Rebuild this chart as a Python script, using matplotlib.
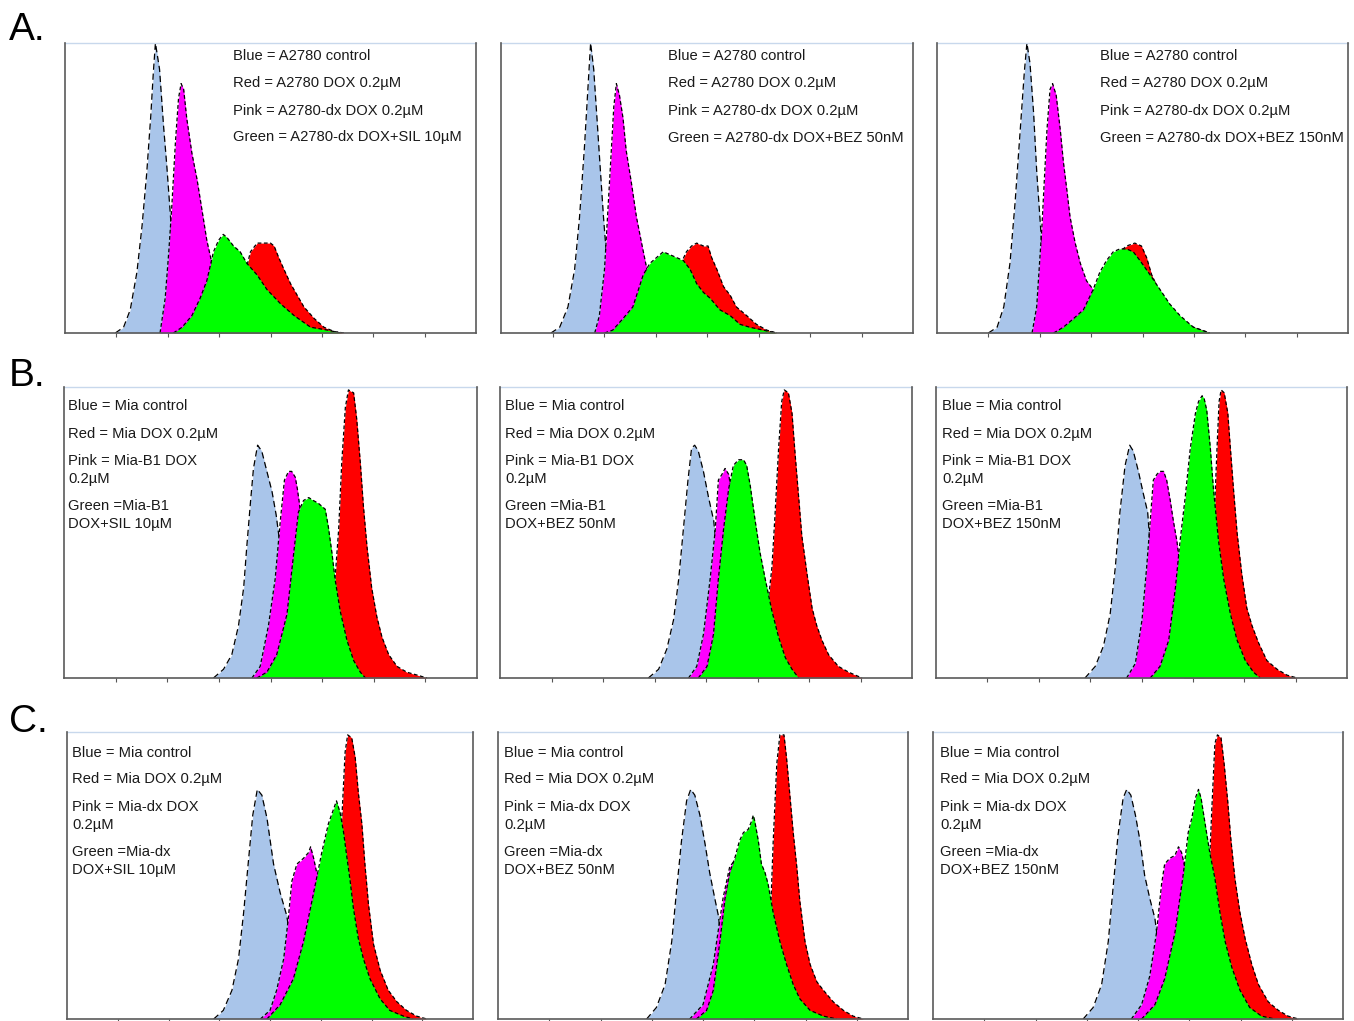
import matplotlib
matplotlib.use('Agg')
import matplotlib.pyplot as plt

plt.rcParams['font.family'] = ['Liberation Sans', 'DejaVu Sans']

W, H = 1354, 1021

# ---- data: fluorescence histograms, x in axis-tick units (0-8), y in % of max ----
# Row A
A1_BLUE_X = [0.98, 1.14, 1.27, 1.40, 1.50, 1.59, 1.67, 1.72, 1.76, 1.84, 1.92, 1.98, 2.05, 2.11, 2.18, 2.28, 2.37]
A1_BLUE_Y = [0, 2, 8, 21, 37, 55, 75, 90, 100, 91, 71, 58, 41, 25, 12, 2, 0]
A1_PINK_X = [1.85, 1.95, 2.02, 2.08, 2.15, 2.21, 2.26, 2.31, 2.37, 2.47, 2.57, 2.67, 2.76, 2.86, 2.96, 3.15, 3.41, 3.80]
A1_PINK_Y = [0, 12, 28, 44, 66, 81, 86, 84, 74, 62, 53, 42, 32, 24, 17, 9, 3, 0]
A1_GREEN_X = [2.11, 2.28, 2.47, 2.63, 2.76, 2.89, 2.99, 3.08, 3.15, 3.28, 3.41, 3.54, 3.74, 3.93, 4.20, 4.46, 4.78, 5.11, 5.37]
A1_GREEN_Y = [0, 2, 6, 12, 18, 28, 32, 34, 33, 30, 28, 24, 20, 15, 10, 6, 2, 1, 0]
A1_RED_X = [2.96, 3.28, 3.51, 3.61, 3.74, 3.87, 4.00, 4.07, 4.16, 4.26, 4.39, 4.52, 4.65, 4.85, 5.04, 5.24, 5.43]
A1_RED_Y = [0, 9, 21, 28, 31, 31, 31, 30, 26, 22, 17, 13, 9, 5, 2, 0.5, 0]

A2_BLUE_X = [0.97, 1.14, 1.30, 1.43, 1.525, 1.62, 1.69, 1.74, 1.80, 1.86, 1.93, 1.99, 2.06, 2.14, 2.24, 2.34]
A2_BLUE_Y = [0, 2, 9, 22, 40, 64, 85, 100, 91, 75, 56, 40, 24, 10, 2, 0]
A2_PINK_X = [1.82, 1.91, 2.01, 2.11, 2.19, 2.24, 2.30, 2.37, 2.43, 2.53, 2.63, 2.73, 2.81, 2.89, 3.02, 3.21, 3.47, 3.80]
A2_PINK_Y = [0, 6, 22, 53, 78, 86, 82, 74, 63, 52, 40, 31, 24, 17, 10, 5, 1, 0]
A2_GREEN_X = [2.01, 2.17, 2.37, 2.56, 2.76, 2.89, 3.02, 3.15, 3.28, 3.41, 3.54, 3.67, 3.80, 3.93, 4.06, 4.25, 4.45, 4.64, 4.83, 5.09, 5.35]
A2_GREEN_Y = [0, 1, 5, 9, 20, 24, 26, 28, 27, 26, 25, 22, 17, 14, 12, 8, 6, 3, 2, 1, 0]
A2_RED_X = [2.69, 3.02, 3.28, 3.47, 3.60, 3.70, 3.80, 3.93, 4.02, 4.09, 4.19, 4.32, 4.45, 4.57, 4.77, 4.96, 5.16, 5.35]
A2_RED_Y = [0, 6, 15, 23, 28, 30, 31, 30, 30, 26, 22, 16, 13, 9, 6, 3, 1, 0]

A3_BLUE_X = [1.00, 1.17, 1.30, 1.42, 1.52, 1.62, 1.70, 1.75, 1.81, 1.88, 1.94, 2.01, 2.07, 2.14, 2.21, 2.32]
A3_BLUE_Y = [0, 2, 9, 24, 45, 70, 90, 100, 93, 76, 56, 38, 22, 9, 2, 0]
A3_PINK_X = [1.85, 1.94, 2.04, 2.14, 2.20, 2.25, 2.32, 2.40, 2.46, 2.53, 2.59, 2.69, 2.79, 2.91, 3.04, 3.17, 3.37, 3.63, 3.89]
A3_PINK_Y = [0, 9, 36, 70, 84, 86, 82, 70, 59, 49, 40, 31, 24, 18, 15, 10, 5, 1, 0]
A3_GREEN_X = [2.27, 2.46, 2.66, 2.85, 3.04, 3.17, 3.30, 3.43, 3.56, 3.69, 3.82, 3.95, 4.15, 4.34, 4.53, 4.73, 4.99, 5.31]
A3_GREEN_Y = [0, 2, 5, 8, 15, 21, 25, 28, 29, 29, 28, 25, 20, 15, 10, 6, 2, 0]
A3_RED_X = [2.59, 2.91, 3.17, 3.43, 3.69, 3.85, 3.98, 4.08, 4.18, 4.34, 4.53, 4.73, 4.99, 5.31]
A3_RED_Y = [0, 6, 17, 26, 30, 31, 30, 26, 20, 14, 9, 5, 2, 0]

# Row B
B1_BLUE_X = [2.895, 3.09, 3.25, 3.38, 3.48, 3.54, 3.61, 3.67, 3.75, 3.83, 3.93, 4.03, 4.11, 4.19, 4.25, 4.32, 4.38, 4.45]
B1_BLUE_Y = [0, 3, 8, 18, 31, 45, 60, 72, 80, 78, 71, 64, 56, 45, 34, 20, 8, 0]
B1_PINK_X = [3.64, 3.80, 3.96, 4.09, 4.19, 4.27, 4.35, 4.41, 4.48, 4.52, 4.56, 4.64, 4.77, 4.96, 5.16]
B1_PINK_Y = [0, 4, 18, 34, 54, 68, 71, 71, 69, 65, 60, 45, 28, 11, 0]
B1_GREEN_X = [3.735, 3.93, 4.12, 4.32, 4.45, 4.54, 4.64, 4.74, 4.83, 4.93, 4.995, 5.06, 5.12, 5.19, 5.25, 5.35, 5.48, 5.61, 5.74, 5.84]
B1_GREEN_Y = [0, 2, 8, 22, 43, 57, 61, 62, 61, 60, 59, 58, 52, 43, 34, 23, 13, 6, 2, 0]
B1_RED_X = [4.45, 4.83, 5.09, 5.25, 5.32, 5.38, 5.45, 5.51, 5.61, 5.67, 5.74, 5.80, 5.87, 5.96, 6.06, 6.16, 6.29, 6.45, 6.64, 6.84, 7.03]
B1_RED_Y = [0, 5, 15, 34, 51, 74, 93, 99, 98, 89, 74, 59, 45, 31, 21, 14, 8, 4, 2, 1, 0]

B2_BLUE_X = [2.88, 3.08, 3.24, 3.37, 3.47, 3.56, 3.65, 3.72, 3.78, 3.85, 3.95, 4.05, 4.15, 4.21, 4.31, 4.40, 4.47]
B2_BLUE_Y = [0, 3, 10, 20, 34, 51, 68, 79, 80, 78, 71, 62, 54, 43, 22, 5, 0]
B2_PINK_X = [3.66, 3.82, 3.95, 4.08, 4.18, 4.24, 4.31, 4.37, 4.44, 4.50, 4.57, 4.70, 4.89, 5.08]
B2_PINK_Y = [0, 4, 15, 34, 51, 68, 70, 72, 70, 63, 51, 28, 8, 0]
B2_GREEN_X = [3.85, 4.02, 4.145, 4.24, 4.34, 4.44, 4.53, 4.63, 4.73, 4.79, 4.86, 4.955, 5.05, 5.15, 5.28, 5.41, 5.54, 5.67, 5.80]
B2_GREEN_Y = [0, 4, 15, 34, 51, 65, 73, 75, 75, 73, 66, 54, 43, 34, 23, 14, 7, 3, 0]
B2_RED_X = [4.57, 4.95, 5.18, 5.28, 5.34, 5.41, 5.47, 5.52, 5.60, 5.67, 5.73, 5.80, 5.86, 5.96, 6.06, 6.15, 6.25, 6.38, 6.57, 6.77, 7.03]
B2_RED_Y = [0, 5, 22, 38, 56, 79, 95, 99, 98, 91, 77, 62, 49, 36, 24, 18, 13, 8, 4, 2, 0]

B3_BLUE_X = [2.90, 3.10, 3.26, 3.39, 3.49, 3.58, 3.68, 3.77, 3.84, 3.94, 4.04, 4.12, 4.17, 4.23, 4.33, 4.43]
B3_BLUE_Y = [0, 4, 11, 22, 38, 57, 73, 80, 78, 71, 63, 57, 45, 28, 11, 0]
B3_PINK_X = [3.71, 3.88, 4.01, 4.10, 4.17, 4.23, 4.30, 4.36, 4.43, 4.49, 4.56, 4.62, 4.69, 4.75, 4.82, 4.95, 5.08, 5.21]
B3_PINK_Y = [0, 5, 20, 38, 54, 68, 70, 71, 71, 68, 61, 54, 47, 38, 28, 13, 4, 0]
B3_GREEN_X = [4.17, 4.36, 4.53, 4.66, 4.75, 4.85, 4.95, 5.05, 5.11, 5.18, 5.22, 5.27, 5.34, 5.40, 5.50, 5.60, 5.73, 5.86, 6.02, 6.18, 6.31]
B3_GREEN_Y = [0, 4, 13, 31, 47, 62, 79, 91, 95, 97, 96, 92, 79, 65, 47, 34, 22, 13, 6, 2, 0]
B3_RED_X = [4.82, 5.14, 5.34, 5.42, 5.47, 5.51, 5.55, 5.61, 5.68, 5.73, 5.79, 5.86, 5.95, 6.05, 6.15, 6.28, 6.44, 6.64, 6.83, 7.03]
B3_RED_Y = [0, 11, 34, 57, 79, 95, 99, 98, 91, 79, 65, 50, 36, 24, 18, 12, 6, 3, 1, 0]

# Row C
C1_BLUE_X = [2.89, 3.08, 3.25, 3.38, 3.48, 3.58, 3.66, 3.75, 3.84, 3.94, 4.07, 4.20, 4.33, 4.46, 4.59, 4.72]
C1_BLUE_Y = [0, 3, 10, 21, 37, 56, 71, 80, 78, 70, 54, 44, 36, 21, 7, 0]
C1_PINK_X = [3.81, 4.00, 4.13, 4.27, 4.36, 4.43, 4.53, 4.66, 4.76, 4.80, 4.86, 4.92, 4.97, 5.05, 5.18, 5.38, 5.58]
C1_PINK_Y = [0, 3, 10, 21, 35, 48, 54, 56, 58, 60, 56, 51, 50, 39, 21, 6, 0]
C1_GREEN_X = [3.94, 4.20, 4.46, 4.66, 4.86, 5.02, 5.15, 5.25, 5.31, 5.38, 5.45, 5.51, 5.58, 5.64, 5.74, 5.84, 5.97, 6.17, 6.36, 6.63, 6.82]
C1_GREEN_Y = [0, 5, 14, 27, 44, 58, 68, 73, 76, 72, 65, 57, 48, 39, 28, 21, 14, 7, 3, 1, 0]
C1_RED_X = [4.59, 5.05, 5.31, 5.41, 5.48, 5.53, 5.61, 5.68, 5.74, 5.81, 5.87, 5.94, 6.04, 6.17, 6.33, 6.50, 6.69, 6.89, 7.09]
C1_RED_Y = [0, 10, 33, 68, 93, 99, 98, 91, 79, 68, 54, 40, 26, 17, 10, 6, 3, 1, 0]

C2_BLUE_X = [2.90, 3.09, 3.26, 3.39, 3.48, 3.58, 3.68, 3.76, 3.84, 3.94, 4.04, 4.13, 4.23, 4.30, 4.39, 4.52, 4.65]
C2_BLUE_Y = [0, 4, 12, 27, 44, 62, 76, 80, 78, 71, 61, 51, 42, 36, 21, 6, 0]
C2_PINK_X = [3.74, 4.00, 4.20, 4.39, 4.52, 4.65, 4.72, 4.85, 5.05, 5.31, 5.50]
C2_PINK_Y = [0, 5, 19, 42, 53, 56, 57, 50, 33, 12, 0]
C2_GREEN_X = [3.87, 4.07, 4.20, 4.33, 4.43, 4.52, 4.62, 4.71, 4.79, 4.88, 4.95, 4.98, 5.01, 5.08, 5.14, 5.21, 5.27, 5.37, 5.50, 5.63, 5.76, 5.89, 6.09, 6.35, 6.61]
C2_GREEN_Y = [0, 3, 10, 27, 42, 51, 56, 62, 65, 66, 69, 71, 69, 62, 54, 51, 47, 37, 27, 19, 12, 7, 3, 1, 0]
C2_RED_X = [4.79, 5.11, 5.31, 5.37, 5.44, 5.50, 5.58, 5.63, 5.70, 5.76, 5.83, 5.89, 5.99, 6.09, 6.22, 6.35, 6.54, 6.74, 6.93, 7.13]
C2_RED_Y = [0, 7, 33, 62, 89, 99, 99, 91, 77, 65, 53, 41, 27, 19, 13, 10, 6, 3, 1, 0]

C3_BLUE_X = [2.93, 3.125, 3.29, 3.42, 3.52, 3.61, 3.71, 3.78, 3.86, 3.95, 4.04, 4.13, 4.23, 4.33, 4.43, 4.52, 4.65]
C3_BLUE_Y = [0, 4, 12, 27, 47, 64, 77, 80, 78, 71, 62, 50, 42, 35, 21, 7, 0]
C3_PINK_X = [3.87, 4.07, 4.23, 4.36, 4.46, 4.52, 4.62, 4.72, 4.79, 4.85, 4.90, 5.05, 5.24, 5.44, 5.63]
C3_PINK_Y = [0, 5, 15, 30, 47, 54, 56, 57, 60, 58, 54, 39, 19, 5, 0]
C3_GREEN_X = [4.07, 4.33, 4.52, 4.72, 4.88, 4.98, 5.05, 5.12, 5.18, 5.23, 5.31, 5.40, 5.50, 5.60, 5.70, 5.83, 5.99, 6.18, 6.41, 6.67]
C3_GREEN_Y = [0, 5, 14, 30, 50, 65, 70, 77, 80, 77, 68, 58, 49, 37, 27, 18, 10, 4, 1, 0]
C3_RED_X = [4.92, 5.24, 5.37, 5.44, 5.50, 5.55, 5.62, 5.68, 5.75, 5.81, 5.89, 5.99, 6.09, 6.22, 6.35, 6.54, 6.74, 6.93, 7.13]
C3_RED_Y = [0, 10, 44, 73, 96, 99, 98, 89, 76, 63, 49, 37, 28, 19, 12, 6, 3, 1, 0]

# legend texts
A1_LABELS = ['Blue = A2780 control', 'Red = A2780 DOX 0.2µM', 'Pink = A2780-dx DOX 0.2µM',
             'Green = A2780-dx DOX+SIL 10µM']
A2_LABELS = ['Blue = A2780 control', 'Red = A2780 DOX 0.2µM', 'Pink = A2780-dx DOX 0.2µM',
             'Green = A2780-dx DOX+BEZ 50nM']
A3_LABELS = ['Blue = A2780 control', 'Red = A2780 DOX 0.2µM', 'Pink = A2780-dx DOX 0.2µM',
             'Green = A2780-dx DOX+BEZ 150nM']
B1_LABELS = ['Blue = Mia control', 'Red = Mia DOX 0.2µM', 'Pink = Mia-B1 DOX\n0.2µM', 'Green =Mia-B1\nDOX+SIL 10µM']
B2_LABELS = ['Blue = Mia control', 'Red = Mia DOX 0.2µM', 'Pink = Mia-B1 DOX\n0.2µM', 'Green =Mia-B1\nDOX+BEZ 50nM']
B3_LABELS = ['Blue = Mia control', 'Red = Mia DOX 0.2µM', 'Pink = Mia-B1 DOX\n0.2µM', 'Green =Mia-B1\nDOX+BEZ 150nM']
C1_LABELS = ['Blue = Mia control', 'Red = Mia DOX 0.2µM', 'Pink = Mia-dx DOX\n0.2µM', 'Green =Mia-dx\nDOX+SIL 10µM']
C2_LABELS = ['Blue = Mia control', 'Red = Mia DOX 0.2µM', 'Pink = Mia-dx DOX\n0.2µM', 'Green =Mia-dx\nDOX+BEZ 50nM']
C3_LABELS = ['Blue = Mia control', 'Red = Mia DOX 0.2µM', 'Pink = Mia-dx DOX\n0.2µM', 'Green =Mia-dx\nDOX+BEZ 150nM']

COLORS = {'blue': '#a9c5ea', 'red': '#ff0000', 'pink': '#ff00ff', 'green': '#00ff00'}

# panel boxes in pixels (left, top, right, bottom) and label anchor (x, first line y)
panels = [
    ((65, 43, 476, 333), (233, 55), A1_LABELS,
     [(A1_BLUE_X, A1_BLUE_Y), (A1_RED_X, A1_RED_Y), (A1_PINK_X, A1_PINK_Y), (A1_GREEN_X, A1_GREEN_Y)]),
    ((501, 43, 913, 333), (668, 55), A2_LABELS,
     [(A2_BLUE_X, A2_BLUE_Y), (A2_RED_X, A2_RED_Y), (A2_PINK_X, A2_PINK_Y), (A2_GREEN_X, A2_GREEN_Y)]),
    ((937, 43, 1348, 333), (1100, 55), A3_LABELS,
     [(A3_BLUE_X, A3_BLUE_Y), (A3_RED_X, A3_RED_Y), (A3_PINK_X, A3_PINK_Y), (A3_GREEN_X, A3_GREEN_Y)]),
    ((64, 387, 477, 678), (68, 405), B1_LABELS,
     [(B1_BLUE_X, B1_BLUE_Y), (B1_RED_X, B1_RED_Y), (B1_PINK_X, B1_PINK_Y), (B1_GREEN_X, B1_GREEN_Y)]),
    ((500, 387, 912, 678), (505, 405), B2_LABELS,
     [(B2_BLUE_X, B2_BLUE_Y), (B2_RED_X, B2_RED_Y), (B2_PINK_X, B2_PINK_Y), (B2_GREEN_X, B2_GREEN_Y)]),
    ((936, 387, 1347, 678), (942, 405), B3_LABELS,
     [(B3_BLUE_X, B3_BLUE_Y), (B3_RED_X, B3_RED_Y), (B3_PINK_X, B3_PINK_Y), (B3_GREEN_X, B3_GREEN_Y)]),
    ((67, 732, 473, 1019), (72, 751), C1_LABELS,
     [(C1_BLUE_X, C1_BLUE_Y), (C1_RED_X, C1_RED_Y), (C1_PINK_X, C1_PINK_Y), (C1_GREEN_X, C1_GREEN_Y)]),
    ((498, 732, 908, 1019), (504, 751), C2_LABELS,
     [(C2_BLUE_X, C2_BLUE_Y), (C2_RED_X, C2_RED_Y), (C2_PINK_X, C2_PINK_Y), (C2_GREEN_X, C2_GREEN_Y)]),
    ((933, 732, 1343, 1019), (940, 751), C3_LABELS,
     [(C3_BLUE_X, C3_BLUE_Y), (C3_RED_X, C3_RED_Y), (C3_PINK_X, C3_PINK_Y), (C3_GREEN_X, C3_GREEN_Y)]),
]
draw_order = ['blue', 'red', 'pink', 'green']


def draw_panel(fig, box, anchor, labels, curves):
    l, t, r, b = box
    ax = fig.add_axes([l / W, 1 - b / H, (r - l) / W, (b - t) / H])
    # each histogram's fill + outline sits above the previous one
    for i, (name, (xs, ys)) in enumerate(zip(draw_order, curves)):
        ax.fill_between(xs, ys, 0, color=COLORS[name], lw=0, zorder=2 * i + 1)
        dash = (0, (5, 3)) if name == 'blue' else (0, (3, 2))
        ax.plot(xs, ys, color='black', lw=0.9, ls=dash, zorder=2 * i + 2)
    ax.set_xlim(0, 8)
    ax.set_ylim(0, 100)
    ax.set_xticks(range(1, 8))
    ax.set_xticklabels([])
    ax.set_yticks([])
    ax.tick_params(axis='x', direction='out', length=3, width=0.8, color='#555555')
    for side in ['left', 'right', 'bottom']:
        ax.spines[side].set_color('#5a5a5a')
        ax.spines[side].set_linewidth(1.2)
        ax.spines[side].set_zorder(20)
    ax.spines['top'].set_color('#c8d8ec')
    ax.spines['top'].set_linewidth(1.0)

    # legend text, one line at a time
    x, y = anchor
    for entry in labels:
        lines = entry.split('\n')
        for i, line in enumerate(lines):
            fig.text(x / W, 1 - (y + 1.5) / H, line, fontsize=10.6, va='center', ha='left', color='#1a1a1a')
            if i < len(lines) - 1:
                y += 18
        y += 27


fig = plt.figure(figsize=(W / 100, H / 100), dpi=100)
for box, anchor, labels, curves in panels:
    draw_panel(fig, box, anchor, labels, curves)

for letter, base in [('A.', 40), ('B.', 386), ('C.', 732)]:
    fig.text(9 / W, 1 - base / H, letter, fontsize=28, va='baseline', ha='left')

fig.savefig('out.png', dpi=100)
